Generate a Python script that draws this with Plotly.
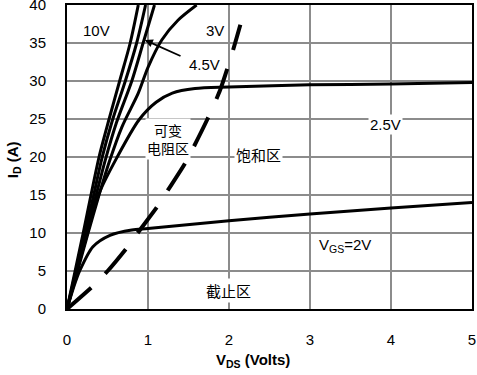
import plotly.graph_objects as go

# ---- data ----
v_10v = [0, 0.1, 0.2, 0.3, 0.4, 0.52, 0.65, 0.78, 0.88]
i_10v = [0, 5, 10, 15.2, 20.2, 25, 30, 35, 40]

v_curve_b = [0, 0.11, 0.22, 0.33, 0.43, 0.56, 0.72, 0.86, 0.97]
i_curve_b = [0, 5, 10, 15, 19.8, 24.8, 30, 35, 40]

v_4v5 = [0, 0.12, 0.24, 0.36, 0.47, 0.61, 0.8, 0.94, 1.08]
i_4v5 = [0, 5, 10, 15, 19.5, 24.5, 30, 35, 40]

v_3v = [0, 0.13, 0.26, 0.39, 0.52, 0.68, 0.88, 1.0, 1.17, 1.37, 1.6]
i_3v = [0, 5, 10, 14.8, 19.3, 24, 28.4, 31.8, 35.4, 38, 40]

v_2v5 = [0, 0.2, 0.4, 0.62, 0.89, 1.1, 1.3, 1.58, 2.0, 3.0, 4.0, 5.0]
i_2v5 = [0, 8, 15.3, 20, 24.9, 27.2, 28.4, 29.0, 29.2, 29.5, 29.6, 29.8]

v_2v = [0, 0.08, 0.16, 0.32, 0.53, 0.8, 1.0, 2.0, 3.0, 4.0, 5.0]
i_2v = [0, 2.8, 5.1, 8.2, 9.7, 10.4, 10.6, 11.6, 12.5, 13.3, 14.0]

v_boundary = [0, 0.35, 0.51, 0.75, 0.9, 1.11, 1.25, 1.46, 1.73, 1.89, 2.04, 2.14]
i_boundary = [0, 3.3, 5.1, 8.2, 10.4, 13.4, 15.7, 19.2, 24.9, 28.8, 33.7, 37.4]

x_ticks = [0, 1, 2, 3, 4, 5]
y_ticks = [0, 5, 10, 15, 20, 25, 30, 35, 40]

FONT = "Arial, Liberation Sans, sans-serif"
CJK = "Noto Sans CJK SC, sans-serif"

fig = go.Figure()
for name, xs, ys in [("10V", v_10v, i_10v), ("B", v_curve_b, i_curve_b),
                     ("4.5V", v_4v5, i_4v5), ("3V", v_3v, i_3v),
                     ("2.5V", v_2v5, i_2v5), ("2V", v_2v, i_2v)]:
    fig.add_trace(go.Scatter(x=xs, y=ys, mode="lines", name=name,
                             line=dict(color="black", width=3, shape="spline", smoothing=0.8),
                             showlegend=False, hoverinfo="skip"))
fig.add_trace(go.Scatter(x=v_boundary, y=i_boundary, mode="lines",
                         line=dict(color="black", width=4, dash="32px,20px", shape="spline", smoothing=0.6),
                         showlegend=False, hoverinfo="skip"))

def txt(x, y, t, font=FONT, size=15):
    fig.add_annotation(x=x, y=y, xref="x", yref="y", text=t, showarrow=False,
                       font=dict(family=font, size=size, color="black"),
                       bgcolor="white", borderpad=1)

txt(0.37, 36.7, "10V")
txt(1.83, 36.7, "3V")
txt(1.70, 32.2, "4.5V")
txt(1.25, 22.4, "可变<br>电阻区", font=CJK, size=14)
txt(2.36, 20.3, "饱和区", font=CJK, size=15)
txt(3.93, 24.3, "2.5V")
txt(3.43, 8.4, "V<sub>GS</sub>=2V")
txt(1.99, 2.4, "截止区", font=CJK, size=15)

# arrow for 4.5V
fig.add_annotation(x=0.96, y=35.4, ax=1.42, ay=33.2, xref="x", yref="y",
                   axref="x", ayref="y", text="", showarrow=True,
                   arrowhead=2, arrowsize=0.9, arrowwidth=1.8, arrowcolor="black")

# axis titles
fig.add_annotation(x=0.459, y=-0.168, xref="paper", yref="paper",
                   xanchor="center", yanchor="middle",
                   text="<b>V<sub>DS</sub> (Volts)</b>", showarrow=False,
                   font=dict(family=FONT, size=15, color="black"))
fig.add_annotation(x=-0.133, y=0.49, xref="paper", yref="paper", textangle=-90,
                   xanchor="center", yanchor="middle",
                   text="<b>I<sub>D</sub> (A)</b>", showarrow=False,
                   font=dict(family=FONT, size=15, color="black"))

axis_common = dict(showgrid=True, gridcolor="#8c8c8c", gridwidth=2, zeroline=False,
                   showline=True, linecolor="black", linewidth=2, mirror=True,
                   automargin=False, ticklabeloverflow="allow",
                   ticks="", tickfont=dict(family=FONT, size=15, color="black"))
fig.update_xaxes(range=[0, 5], tickvals=x_ticks, ticklabelstandoff=16, **axis_common)
fig.update_yaxes(range=[0, 40], tickvals=y_ticks, ticklabelstandoff=16, **axis_common)

fig.update_layout(width=477, height=375, margin=dict(l=67, r=5, t=5, b=66, autoexpand=False),
                  plot_bgcolor="white", paper_bgcolor="white")

fig.write_html("out.html", config={"displayModeBar": False},
               post_script="document.body.style.margin='0';")
